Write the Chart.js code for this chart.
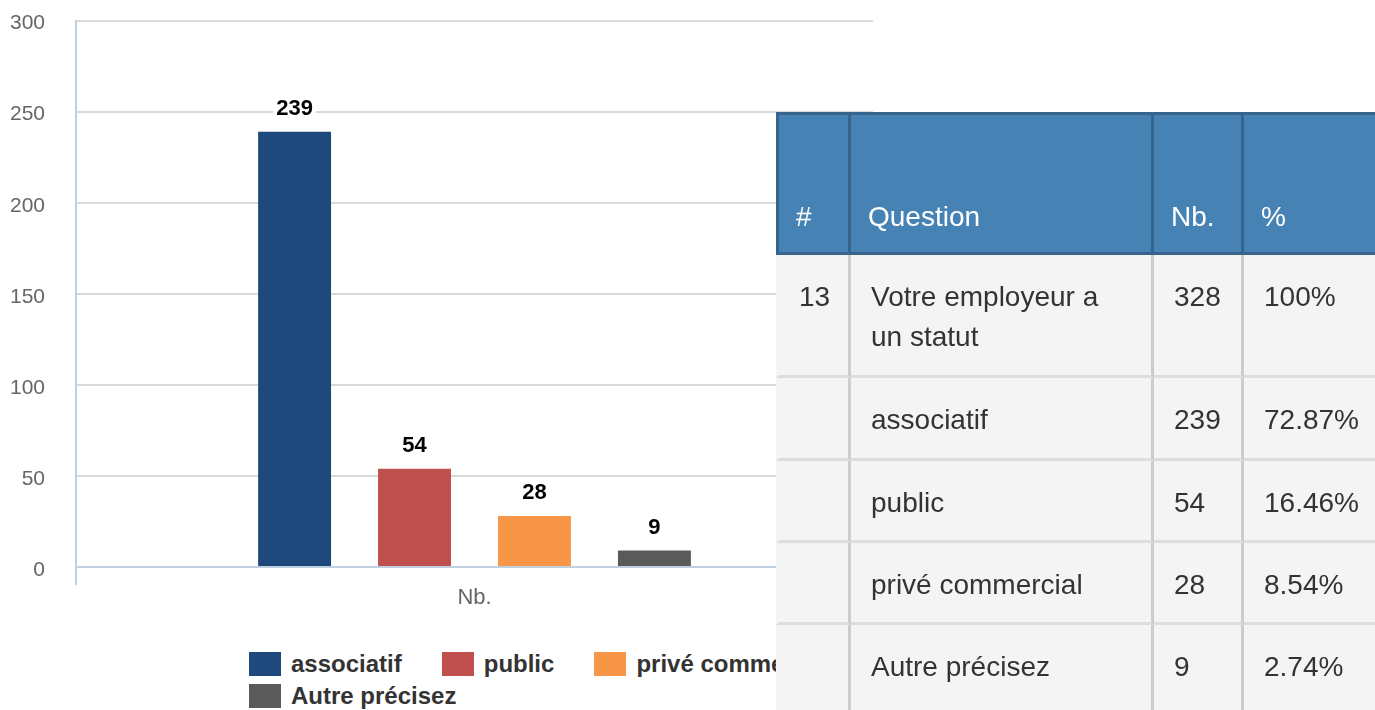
<!DOCTYPE html>
<html>
<head>
<meta charset="utf-8">
<script src="https://cdn.jsdelivr.net/npm/chart.js@4/dist/chart.umd.min.js"></script>
<style>
  html, body { margin: 0; padding: 0; background: #fff; width: 1375px; height: 710px; overflow: hidden; font-family: 'Liberation Sans', Arial, Helvetica, sans-serif; }
  #wrap { position: absolute; left: 0; top: -23px; width: 876px; height: 643px; }
  #legend { position: absolute; left: 249px; top: 648px; width: 660px; font-weight: bold; font-size: 24px; color: #333; }
  .item { display: inline-flex; align-items: center; height: 32px; margin-right: 40px; vertical-align: top; white-space: nowrap; }
  .box { width: 32px; height: 24px; margin-right: 10px; }
  #tbl { position: absolute; left: 776px; top: 112px; border-collapse: separate; border-spacing: 0; table-layout: fixed; width: 700px; font-size: 28px; line-height: 40px; color: #333; }
  #tbl th, #tbl td { box-sizing: border-box; text-align: left; padding-left: 20px; padding-right: 10px; }
  #tbl th { background: #4682b4; color: #fff; font-weight: normal; vertical-align: bottom; height: 143px; padding-left: 17px; padding-bottom: 15px; border-top: 3px solid #36648b; border-bottom: 3px solid #36648b; border-right: 3px solid #36648b; }
  #tbl th:first-child { border-left: 3px solid #36648b; }
  #tbl td { background: #f4f4f4; vertical-align: top; padding-top: 22px; border-right: 3px solid #cccccc; border-bottom: 3px solid #dddddd; }
  #tbl td:first-child { border-left: 3px solid #f4f4f4; }
  #tbl td:nth-child(2) { padding-right: 40px; }
</style>
</head>
<body>
<div id="wrap"><canvas id="c"></canvas></div>
<div id="legend"></div>
<table id="tbl"><colgroup><col style="width:75px"><col style="width:303px"><col style="width:90px"><col style="width:232px"></colgroup><thead><tr id="thead"></tr></thead><tbody id="tbody"></tbody></table>
<script>
// ---- data ----
const categories = ['Nb.'];
const seriesNames = ['associatif', 'public', 'privé commercial', 'Autre précisez'];
const seriesValues = [239, 54, 28, 9];
const seriesColors = ['#1f497d', '#c0504d', '#f79646', '#5a5a5a'];
const yTicks = { min: 0, max: 300, step: 50 };
const tableHeader = ['#', 'Question', 'Nb.', '%'];
const tableRows = [
  ['13', 'Votre employeur a un statut', '328', '100%'],
  ['', 'associatif', '239', '72.87%'],
  ['', 'public', '54', '16.46%'],
  ['', 'privé commercial', '28', '8.54%'],
  ['', 'Autre précisez', '9', '2.74%']
];
const rowHeights = [123, 83, 82, 82, 92];

// ---- table ----
const thead = document.getElementById('thead');
tableHeader.forEach(h => { const th = document.createElement('th'); th.textContent = h; thead.appendChild(th); });
const tbody = document.getElementById('tbody');
tableRows.forEach((r, i) => {
  const tr = document.createElement('tr');
  r.forEach(v => { const td = document.createElement('td'); td.textContent = v; td.style.height = rowHeights[i] + 'px'; tr.appendChild(td); });
  tbody.appendChild(tr);
});

// ---- legend ----
const legend = document.getElementById('legend');
seriesNames.forEach((n, i) => {
  const it = document.createElement('span'); it.className = 'item';
  const b = document.createElement('span'); b.className = 'box'; b.style.background = seriesColors[i];
  const t = document.createElement('span'); t.textContent = n;
  it.appendChild(b); it.appendChild(t); legend.appendChild(it);
  if (i === 2) legend.appendChild(document.createElement('br'));
});

// ---- chart ----
const FONT = "'Liberation Sans', Arial, Helvetica, sans-serif";
const valueLabels = {
  id: 'valueLabels',
  afterDatasetsDraw(chart) {
    const ctx = chart.ctx;
    ctx.save();
    ctx.font = 'bold 22px ' + FONT;
    ctx.textAlign = 'center';
    ctx.textBaseline = 'middle';
    chart.data.datasets.forEach((ds, i) => {
      const meta = chart.getDatasetMeta(i);
      meta.data.forEach((bar, j) => {
        const txt = String(ds.data[j]);
        const y = bar.y - 23;
        const w = ctx.measureText(txt).width;
        ctx.fillStyle = 'rgba(255,255,255,0.95)';
        ctx.fillRect(bar.x - w / 2 - 3, y - 12, w + 6, 24);
        ctx.fillStyle = '#000';
        ctx.fillText(txt, bar.x, y);
      });
    });
    ctx.restore();
  }
};

new Chart(document.getElementById('c'), {
  type: 'bar',
  data: {
    labels: categories,
    datasets: seriesNames.map((n, i) => ({
      label: n,
      data: [seriesValues[i]],
      backgroundColor: seriesColors[i],
      borderWidth: 0,
      categoryPercentage: 0.602,
      barPercentage: 0.608
    }))
  },
  options: {
    responsive: true,
    maintainAspectRatio: false,
    animation: false,
    layout: { padding: { top: 0, left: 0, right: 3, bottom: 0 } },
    plugins: { legend: { display: false }, tooltip: { enabled: false } },
    scales: {
      x: {
        afterFit(s) { s.height = 53; },
        grid: { drawOnChartArea: false, drawTicks: true, tickLength: 18, color: '#c0d0e0', lineWidth: 2, offset: true },
        border: { display: true, color: '#c0d0e0', width: 2 },
        ticks: { color: '#666', font: { family: FONT, size: 22 }, padding: 0 }
      },
      y: {
        min: yTicks.min, max: yTicks.max,
        afterFit(s) { s.width = 76; },
        grid: { drawTicks: false, lineWidth: 2, color: (c) => c.tick && c.tick.value === 0 ? 'rgba(0,0,0,0)' : '#d9d9d9' },
        border: { display: true, color: '#c0d0e0', width: 2 },
        ticks: { stepSize: yTicks.step, color: '#666', font: { family: FONT, size: 21 }, padding: 31, labelOffset: 3 }
      }
    }
  },
  plugins: [valueLabels]
});
</script>
</body>
</html>
